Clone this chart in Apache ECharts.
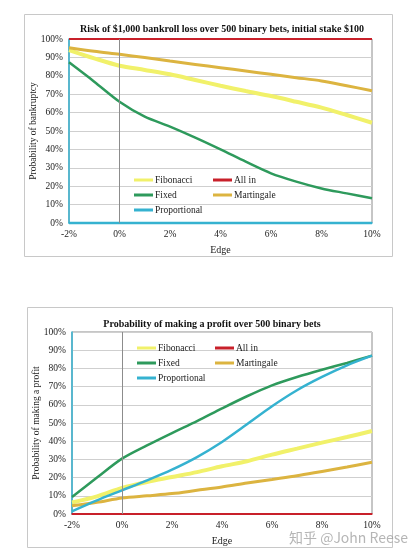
<!DOCTYPE html>
<html>
<head>
<meta charset="utf-8">
<script src="https://cdn.jsdelivr.net/npm/echarts@6/dist/echarts.min.js"></script>
<style>
html,body{margin:0;padding:0;background:#fff;}
#c{width:413px;height:559px;}
</style>
</head>
<body>
<div id="c"></div>
<script>
// Edge values (%)
const edges = [-2,-1,0,1,2,3,4,5,6,7,8,9,10];
const xTicks = ['-2%','0%','2%','4%','6%','8%','10%'];
const yTicks = ['0%','10%','20%','30%','40%','50%','60%','70%','80%','90%','100%'];

// Chart 1: probability of bankruptcy (%)
const bankFibonacci   = [94,89.5,85.5,83.2,80.8,77.7,74.6,71.7,69,65.9,62.7,58.7,54.5];
const bankAllIn       = [100,100,100,100,100,100,100,100,100,100,100,100,100];
const bankFixed       = [87.3,76.8,65.9,57.8,52.4,46.4,40,33.3,27,22.5,18.8,16.1,13.4];
const bankMartingale  = [95.3,93.3,91.7,89.9,88,86.2,84.4,82.6,80.8,79,77.2,74.6,71.9];
const bankProportional= [0,0,0,0,0,0,0,0,0,0,0,0,0];

// Chart 2: probability of making a profit (%)
const profFibonacci   = [6.3,9.7,14.3,17.6,20.3,23,26.2,29,32.6,35.9,39.2,42.3,45.6];
const profAllIn       = [0,0,0,0,0,0,0,0,0,0,0,0,0];
const profFixed       = [9.3,20,30.4,37.7,44.5,51,58,64.7,70.7,75.3,79.3,83,87];
const profMartingale  = [4.5,6.4,8.8,10,11.2,13,14.8,17,19,21,23.4,25.8,28.4];
const profProportional= [1.5,7.5,13,18.5,24.4,31.3,39.6,49.3,59.2,68,75.3,81.7,87];

const names = ['Fibonacci','All in','Fixed','Martingale','Proportional'];
const colors = {
  'Fibonacci':'#f1f16a',
  'All in':'#c8202a',
  'Fixed':'#2e9a5c',
  'Martingale':'#dcb440',
  'Proportional':'#35b2d0'
};
const widths = {'Fibonacci':4,'All in':2,'Fixed':2.5,'Martingale':3,'Proportional':2.5};

const serif = '"Liberation Serif","DejaVu Serif",serif';

function pairs(arr){ return edges.map((e,i)=>[e,arr[i]]); }

function mkSeries(name, arr, idx){
  return {
    name: name, type:'line', xAxisIndex: idx, yAxisIndex: idx,
    data: pairs(arr), smooth: 0.3, symbol:'none', clip:false,
    lineStyle:{color:colors[name], width:widths[name]},
    itemStyle:{color:colors[name]},
    z: name==='Fibonacci'?2:3
  };
}

const chart = echarts.init(document.getElementById('c'), null, {renderer:'canvas'});

function xAxisCfg(idx){
  return {
    gridIndex: idx, type:'value', min:-2, max:10, interval:2,
    axisLine:{show:true, onZero:false, lineStyle:{color: idx===0 ? '#35b2d0' : '#c8202a', width:1.5}},
    axisTick:{show:false},
    splitLine:{show:false},
    axisLabel:{formatter: v => v + '%', fontFamily:serif, fontSize:9.5, color:'#222', margin:6},
    name:'Edge', nameLocation:'middle', nameGap:22, nameMoveOverlap:false,
    nameTextStyle:{fontFamily:serif, fontSize:10, color:'#222'}
  };
}
function yAxisCfg(idx, name, gap){
  return {
    gridIndex: idx, type:'value', min:0, max:100, interval:10,
    axisLine:{show:true, onZero:false, lineStyle:{color:'#35b2d0', width:1.5}},
    axisTick:{show:false},
    splitLine:{show:true, lineStyle:{color:'#cfcfcf', width:1}},
    axisLabel:{formatter: v => v + '%', fontFamily:serif, fontSize:9.5, color:'#222', margin:6},
    name:name, nameLocation:'middle', nameGap:gap, nameRotate:90, nameMoveOverlap:false,
    nameTextStyle:{fontFamily:serif, fontSize:9.5, color:'#222'}
  };
}

const series = [];
const d1 = {'Fibonacci':bankFibonacci,'All in':bankAllIn,'Fixed':bankFixed,'Martingale':bankMartingale,'Proportional':bankProportional};
const d2 = {'Fibonacci':profFibonacci,'All in':profAllIn,'Fixed':profFixed,'Martingale':profMartingale,'Proportional':profProportional};
names.forEach(n => series.push(mkSeries(n, d1[n], 0)));
names.forEach(n => series.push(mkSeries(n, d2[n], 1)));
[0,1].forEach(idx => {
  series.push({
    type:'line', xAxisIndex:idx, yAxisIndex:idx, data:[], silent:true,
    markLine:{silent:true, symbol:'none', label:{show:false},
      lineStyle:{color:'#8c8c8c', width:1, type:'solid'},
      data:[{xAxis:0}]}, z:1
  });
});

function legendCfg(left, top, data){
  return {
    left:left, top:top, orient:'vertical', itemGap:5,
    icon:'rect', itemWidth:19, itemHeight:3,
    data: data,
    textStyle:{fontFamily:serif, fontSize:9.5, color:'#222', padding:[0,0,0,-3]},
    selectedMode:false
  };
}

chart.setOption({
  animation:false,
  backgroundColor:'#fff',
  title:[
    {text:'Risk of $1,000 bankroll loss over 500 binary bets, initial stake $100', left:217, textAlign:'center', top:19,
     textStyle:{fontFamily:serif, fontSize:10, fontWeight:'bold', color:'#111'}},
    {text:'Probability of making a profit over 500 binary bets', left:207, textAlign:'center', top:314,
     textStyle:{fontFamily:serif, fontSize:10, fontWeight:'bold', color:'#111'}}
  ],
  grid:[
    {left:69, top:39, width:303, height:184, show:true, borderColor:'#8c8c8c', borderWidth:1, backgroundColor:'transparent'},
    {left:72, top:332, width:300, height:182, show:true, borderColor:'#8c8c8c', borderWidth:1, backgroundColor:'transparent'}
  ],
  xAxis:[xAxisCfg(0), xAxisCfg(1)],
  yAxis:[yAxisCfg(0,'Probability of bankruptcy',31), yAxisCfg(1,'Probability of making a profit',31)],
  legend:[
    legendCfg(129,170,['Fibonacci','Fixed','Proportional']),
    legendCfg(208,170,['All in','Martingale']),
    legendCfg(132,338,['Fibonacci','Fixed','Proportional']),
    legendCfg(210,338,['All in','Martingale'])
  ],
  series: series,
  graphic:[
    {type:'rect', shape:{x:24.5,y:14.5,width:368,height:242}, style:{fill:'none', stroke:'#c8c8c8', lineWidth:1}, z:-1},
    {type:'rect', shape:{x:27.5,y:307.5,width:365,height:240}, style:{fill:'none', stroke:'#c8c8c8', lineWidth:1}, z:-1},
    {type:'text', left:289, top:531, style:{text:'知乎 @John Reese', fill:'rgba(150,150,150,0.7)', font:'14px "Noto Sans CJK SC", sans-serif'}, z:10}
  ]
});
</script>
</body>
</html>
